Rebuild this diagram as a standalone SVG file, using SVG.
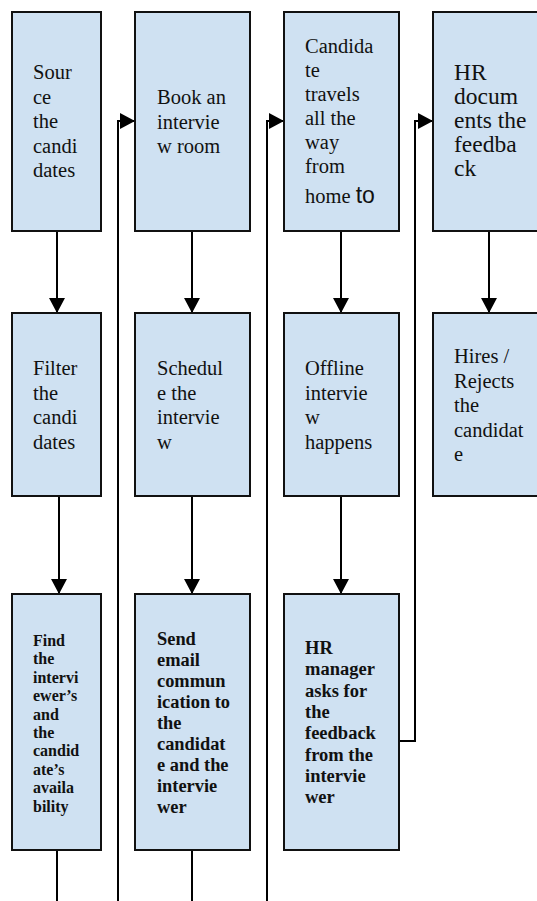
<svg xmlns="http://www.w3.org/2000/svg" width="537" height="901" viewBox="0 0 537 901">
<style>
.box{fill:#cfe1f2;stroke:#111;stroke-width:2}
.t{font-family:"Liberation Serif","Times New Roman",serif;font-size:20.5px;fill:#111}
.t4{font-family:"Liberation Serif","Times New Roman",serif;font-size:23.5px;fill:#111}
.b{font-family:"Liberation Serif","Times New Roman",serif;font-weight:bold;fill:#111}
.s{font-family:"Liberation Sans",Arial,sans-serif;font-size:23px}
.c{fill:none;stroke:#000;stroke-width:2}
</style>
<defs>
<marker id="ah" markerUnits="userSpaceOnUse" viewBox="0 0 15 16" refX="15" refY="8" markerWidth="15" markerHeight="16" orient="auto">
<path d="M0,0 L15,8 L0,16 Z" fill="#000"/>
</marker>
</defs>
<rect width="537" height="901" fill="#fff"/>
<g id="connectors">
<path class="c" d="M57,231 V313" marker-end="url(#ah)"/>
<path class="c" d="M192,231 V313" marker-end="url(#ah)"/>
<path class="c" d="M341,231 V313" marker-end="url(#ah)"/>
<path class="c" d="M489,231 V313" marker-end="url(#ah)"/>
<path class="c" d="M59,496 V594" marker-end="url(#ah)"/>
<path class="c" d="M192,496 V594" marker-end="url(#ah)"/>
<path class="c" d="M341,496 V594" marker-end="url(#ah)"/>
<path class="c" d="M57,850 V901"/>
<path class="c" d="M192,850 V901"/>
<path class="c" d="M118,901 V121 H135" marker-end="url(#ah)"/>
<path class="c" d="M267,901 V121 H284" marker-end="url(#ah)"/>
<path class="c" d="M399,741 H415 V121 H433" marker-end="url(#ah)"/>
</g>
<g id="source">
<rect class="box" x="12" y="12" width="89" height="219"/>
<text class="t"><tspan x="33" y="79">Sour</tspan><tspan x="33" y="103.5">ce</tspan><tspan x="33" y="128">the</tspan><tspan x="33" y="152.5">candi</tspan><tspan x="33" y="177">dates</tspan></text>
</g>
<g id="book">
<rect class="box" x="135" y="12" width="115" height="219"/>
<text class="t"><tspan x="157" y="104">Book an</tspan><tspan x="157" y="128.5">intervie</tspan><tspan x="157" y="153">w room</tspan></text>
</g>
<g id="travel">
<rect class="box" x="284" y="12" width="115" height="219"/>
<text class="t"><tspan x="305" y="52.5">Candida</tspan><tspan x="305" y="76.5">te</tspan><tspan x="305" y="100.5">travels</tspan><tspan x="305" y="124.5">all the</tspan><tspan x="305" y="148.5">way</tspan><tspan x="305" y="172.5">from</tspan><tspan x="305" y="203">home <tspan class="s">to</tspan></tspan></text>
</g>
<g id="document">
<rect class="box" x="433" y="12" width="115" height="219"/>
<text class="t4"><tspan x="454" y="80">HR</tspan><tspan x="454" y="104">docum</tspan><tspan x="454" y="128">ents the</tspan><tspan x="454" y="152">feedba</tspan><tspan x="454" y="176">ck</tspan></text>
</g>
<g id="filter">
<rect class="box" x="12" y="313" width="89" height="183"/>
<text class="t"><tspan x="33" y="375">Filter</tspan><tspan x="33" y="399.5">the</tspan><tspan x="33" y="424">candi</tspan><tspan x="33" y="448.5">dates</tspan></text>
</g>
<g id="schedule">
<rect class="box" x="135" y="313" width="115" height="183"/>
<text class="t"><tspan x="157" y="375">Schedul</tspan><tspan x="157" y="399.5">e the</tspan><tspan x="157" y="424">intervie</tspan><tspan x="157" y="448.5">w</tspan></text>
</g>
<g id="offline">
<rect class="box" x="284" y="313" width="115" height="183"/>
<text class="t"><tspan x="305" y="375">Offline</tspan><tspan x="305" y="399.5">intervie</tspan><tspan x="305" y="424">w</tspan><tspan x="305" y="448.5">happens</tspan></text>
</g>
<g id="hires">
<rect class="box" x="433" y="313" width="115" height="183"/>
<text class="t"><tspan x="454" y="363">Hires /</tspan><tspan x="454" y="387.5">Rejects</tspan><tspan x="454" y="412">the</tspan><tspan x="454" y="436.5">candidat</tspan><tspan x="454" y="461">e</tspan></text>
</g>
<g id="find">
<rect class="box" x="12" y="594" width="89" height="256"/>
<text class="b" font-size="16"><tspan x="33" y="646">Find</tspan><tspan x="33" y="664.4">the</tspan><tspan x="33" y="682.8">intervi</tspan><tspan x="33" y="701.2">ewer’s</tspan><tspan x="33" y="719.6">and</tspan><tspan x="33" y="738">the</tspan><tspan x="33" y="756.4">candid</tspan><tspan x="33" y="774.8">ate’s</tspan><tspan x="33" y="793.2">availa</tspan><tspan x="33" y="811.6">bility</tspan></text>
</g>
<g id="send">
<rect class="box" x="135" y="594" width="115" height="256"/>
<text class="b" font-size="18.4"><tspan x="157" y="645">Send</tspan><tspan x="157" y="666">email</tspan><tspan x="157" y="687">commun</tspan><tspan x="157" y="708">ication to</tspan><tspan x="157" y="729">the</tspan><tspan x="157" y="750">candidat</tspan><tspan x="157" y="771">e and the</tspan><tspan x="157" y="792">intervie</tspan><tspan x="157" y="813">wer</tspan></text>
</g>
<g id="hrmanager">
<rect class="box" x="284" y="594" width="115" height="256"/>
<text class="b" font-size="18.5"><tspan x="305" y="654">HR</tspan><tspan x="305" y="675.3">manager</tspan><tspan x="305" y="696.6">asks for</tspan><tspan x="305" y="718">the</tspan><tspan x="305" y="739.3">feedback</tspan><tspan x="305" y="760.6">from the</tspan><tspan x="305" y="782">intervie</tspan><tspan x="305" y="803.3">wer</tspan></text>
</g>
</svg>
